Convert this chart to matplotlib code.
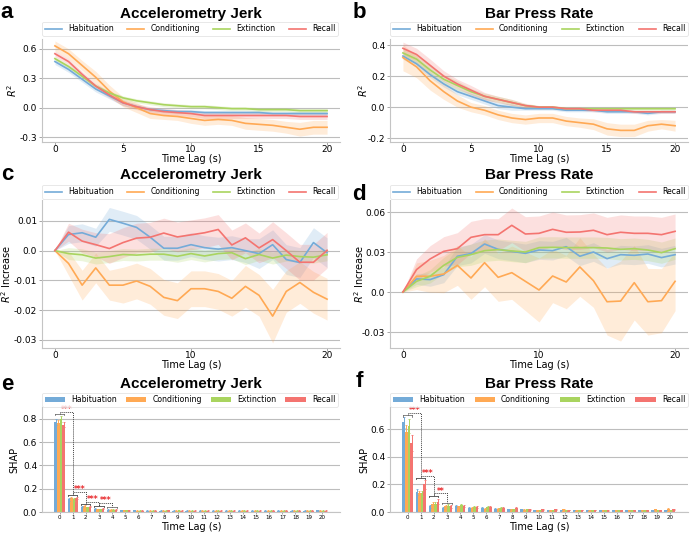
import matplotlib
matplotlib.use('Agg')
import matplotlib.pyplot as plt
import numpy as np

plt.rcParams['axes.unicode_minus'] = False
plt.rcParams['font.family'] = ['DejaVu Sans']

lags = list(range(21))
conditions = ['Habituation', 'Conditioning', 'Extinction', 'Recall']
colors = ['#74abd8', '#ffa954', '#a9d45f', '#f47470']

# ---------- panel a: Accelerometry Jerk, R^2 vs lag ----------
a_hab = [0.47, 0.39, 0.29, 0.19, 0.12, 0.05, 0.01, -0.02, -0.03, -0.04, -0.04, -0.05, -0.05, -0.05, -0.05, -0.05, -0.06, -0.06, -0.06, -0.06, -0.06]
a_con = [0.63, 0.55, 0.43, 0.31, 0.17, 0.06, 0.0, -0.06, -0.08, -0.09, -0.11, -0.13, -0.12, -0.13, -0.16, -0.17, -0.18, -0.20, -0.22, -0.20, -0.20]
a_ext = [0.50, 0.42, 0.32, 0.22, 0.15, 0.10, 0.07, 0.05, 0.03, 0.02, 0.01, 0.01, 0.0, -0.01, -0.01, -0.02, -0.02, -0.02, -0.03, -0.03, -0.03]
a_rec = [0.55, 0.47, 0.34, 0.22, 0.13, 0.05, 0.01, -0.02, -0.04, -0.05, -0.06, -0.08, -0.08, -0.08, -0.08, -0.08, -0.08, -0.08, -0.09, -0.09, -0.09]
a_hab_err = [0.03, 0.03, 0.03, 0.03, 0.03, 0.03, 0.02, 0.02, 0.02, 0.02, 0.02, 0.02, 0.02, 0.02, 0.02, 0.02, 0.02, 0.02, 0.02, 0.02, 0.02]
a_con_err = [0.05, 0.05, 0.05, 0.06, 0.06, 0.05, 0.05, 0.05, 0.04, 0.04, 0.05, 0.05, 0.05, 0.05, 0.06, 0.06, 0.06, 0.06, 0.07, 0.07, 0.07]
a_ext_err = [0.02, 0.02, 0.02, 0.02, 0.02, 0.02, 0.02, 0.02, 0.02, 0.02, 0.02, 0.02, 0.02, 0.02, 0.02, 0.02, 0.02, 0.02, 0.02, 0.02, 0.02]
a_rec_err = [0.03, 0.03, 0.03, 0.03, 0.03, 0.03, 0.03, 0.03, 0.03, 0.03, 0.03, 0.03, 0.03, 0.03, 0.03, 0.03, 0.03, 0.03, 0.03, 0.03, 0.03]

# ---------- panel b: Bar Press Rate, R^2 vs lag ----------
b_hab = [0.33, 0.28, 0.21, 0.15, 0.10, 0.07, 0.04, 0.01, 0.0, -0.01, -0.01, -0.01, -0.02, -0.02, -0.02, -0.03, -0.03, -0.03, -0.04, -0.03, -0.03]
b_con = [0.32, 0.26, 0.17, 0.10, 0.04, 0.0, -0.02, -0.05, -0.07, -0.08, -0.07, -0.07, -0.09, -0.10, -0.11, -0.14, -0.15, -0.15, -0.12, -0.11, -0.12]
b_ext = [0.35, 0.31, 0.24, 0.18, 0.14, 0.10, 0.07, 0.05, 0.03, 0.01, 0.0, 0.0, -0.01, -0.01, -0.01, -0.01, -0.01, -0.01, -0.01, -0.01, -0.01]
b_rec = [0.38, 0.34, 0.27, 0.20, 0.15, 0.11, 0.07, 0.05, 0.03, 0.01, 0.0, 0.0, -0.01, -0.01, -0.02, -0.02, -0.02, -0.03, -0.03, -0.03, -0.03]
b_hab_err = [0.02, 0.02, 0.02, 0.02, 0.02, 0.02, 0.02, 0.02, 0.02, 0.01, 0.01, 0.01, 0.01, 0.01, 0.01, 0.01, 0.01, 0.01, 0.01, 0.01, 0.01]
b_con_err = [0.085, 0.07, 0.06, 0.05, 0.04, 0.03, 0.03, 0.03, 0.03, 0.03, 0.03, 0.03, 0.03, 0.03, 0.035, 0.04, 0.04, 0.04, 0.035, 0.03, 0.035]
b_ext_err = [0.03, 0.03, 0.03, 0.03, 0.03, 0.02, 0.02, 0.02, 0.02, 0.01, 0.01, 0.01, 0.01, 0.01, 0.01, 0.01, 0.01, 0.01, 0.01, 0.01, 0.01]
b_rec_err = [0.04, 0.04, 0.04, 0.035, 0.03, 0.03, 0.025, 0.02, 0.02, 0.015, 0.01, 0.01, 0.01, 0.01, 0.01, 0.01, 0.01, 0.01, 0.01, 0.01, 0.01]

# ---------- panel c: Accelerometry Jerk, R^2 increase ----------
c_hab = [0.0, 0.0054, 0.006, 0.0045, 0.0105, 0.0092, 0.0078, 0.0045, 0.0008, 0.0008, 0.002, 0.001, 0.0005, 0.001, 0.0, -0.001, 0.002, -0.003, -0.004, 0.0027, -0.0007]
c_con = [0.0, -0.0043, -0.0116, -0.0058, -0.0116, -0.0116, -0.0102, -0.012, -0.0157, -0.0168, -0.0128, -0.0128, -0.0137, -0.016, -0.012, -0.015, -0.022, -0.0137, -0.0107, -0.014, -0.0163]
c_ext = [0.0, -0.001, -0.0014, -0.0025, -0.002, -0.0013, -0.0015, -0.0012, -0.0012, -0.0019, -0.001, -0.0018, -0.001, -0.0007, -0.0027, -0.0013, -0.0025, -0.0015, -0.002, -0.0022, -0.0014]
c_rec = [0.0, 0.0062, 0.0032, 0.002, 0.0007, 0.0027, 0.0042, 0.0045, 0.0059, 0.0046, 0.0053, 0.006, 0.0071, 0.0019, 0.0043, 0.0009, 0.0037, 0.0, -0.0039, -0.0039, 0.0001]
c_hab_err = [0.0, 0.003, 0.003, 0.003, 0.004, 0.004, 0.004, 0.004, 0.004, 0.004, 0.004, 0.004, 0.004, 0.004, 0.004, 0.005, 0.005, 0.005, 0.005, 0.005, 0.005]
c_con_err = [0.0, 0.004, 0.005, 0.005, 0.005, 0.006, 0.006, 0.006, 0.006, 0.006, 0.006, 0.006, 0.006, 0.006, 0.007, 0.007, 0.009, 0.007, 0.007, 0.007, 0.007]
c_ext_err = [0.0, 0.002, 0.002, 0.002, 0.002, 0.002, 0.002, 0.002, 0.002, 0.002, 0.002, 0.002, 0.002, 0.002, 0.002, 0.002, 0.002, 0.002, 0.002, 0.002, 0.002]
c_rec_err = [0.0, 0.003, 0.004, 0.004, 0.005, 0.005, 0.005, 0.005, 0.005, 0.005, 0.005, 0.005, 0.005, 0.005, 0.005, 0.005, 0.006, 0.006, 0.006, 0.006, 0.006]

# ---------- panel d: Bar Press Rate, R^2 increase ----------
d_hab = [0.0, 0.0098, 0.0093, 0.013, 0.0268, 0.0288, 0.036, 0.032, 0.0305, 0.029, 0.0315, 0.031, 0.034, 0.0268, 0.03, 0.025, 0.028, 0.0275, 0.0285, 0.0258, 0.028]
d_con = [0.0, 0.0118, 0.0118, 0.0135, 0.02, 0.0105, 0.022, 0.011, 0.0145, 0.008, 0.0015, 0.012, 0.0075, 0.0188, 0.0085, -0.0073, -0.0068, 0.007, -0.0073, -0.0065, 0.008]
d_ext = [0.0, 0.008, 0.0118, 0.02, 0.026, 0.028, 0.031, 0.0318, 0.0308, 0.03, 0.0333, 0.0335, 0.0333, 0.0333, 0.0333, 0.033, 0.032, 0.0325, 0.0315, 0.0295, 0.0325]
d_rec = [0.0, 0.0168, 0.0248, 0.0305, 0.0325, 0.041, 0.043, 0.043, 0.05, 0.0435, 0.044, 0.047, 0.0448, 0.045, 0.0463, 0.043, 0.0448, 0.044, 0.044, 0.043, 0.0455]
d_hab_err = [0.0, 0.004, 0.005, 0.006, 0.007, 0.007, 0.007, 0.007, 0.007, 0.007, 0.007, 0.007, 0.007, 0.007, 0.007, 0.007, 0.007, 0.007, 0.007, 0.007, 0.007]
d_con_err = [0.0, 0.01, 0.012, 0.014, 0.015, 0.016, 0.018, 0.018, 0.02, 0.022, 0.024, 0.02, 0.02, 0.022, 0.02, 0.025, 0.03, 0.028, 0.025, 0.024, 0.022]
d_ext_err = [0.0, 0.004, 0.005, 0.006, 0.007, 0.008, 0.008, 0.008, 0.008, 0.008, 0.008, 0.008, 0.008, 0.008, 0.008, 0.008, 0.008, 0.008, 0.008, 0.008, 0.008]
d_rec_err = [0.0, 0.008, 0.01, 0.011, 0.012, 0.012, 0.012, 0.012, 0.013, 0.013, 0.013, 0.013, 0.013, 0.013, 0.013, 0.013, 0.013, 0.013, 0.013, 0.013, 0.013]

# ---------- panel e: Accelerometry Jerk, SHAP ----------
e_hab = [0.77, 0.11, 0.045, 0.03, 0.02, 0.013, 0.013, 0.012, 0.012, 0.012, 0.012, 0.012, 0.012, 0.012, 0.012, 0.012, 0.012, 0.012, 0.012, 0.012, 0.013]
e_con = [0.76, 0.12, 0.05, 0.025, 0.02, 0.013, 0.012, 0.012, 0.012, 0.012, 0.012, 0.012, 0.012, 0.012, 0.012, 0.012, 0.012, 0.012, 0.012, 0.012, 0.012]
e_ext = [0.80, 0.11, 0.04, 0.025, 0.02, 0.013, 0.012, 0.012, 0.012, 0.013, 0.012, 0.012, 0.012, 0.012, 0.012, 0.012, 0.012, 0.012, 0.012, 0.012, 0.012]
e_rec = [0.75, 0.12, 0.045, 0.03, 0.02, 0.013, 0.012, 0.012, 0.013, 0.012, 0.012, 0.012, 0.012, 0.012, 0.012, 0.012, 0.012, 0.012, 0.012, 0.012, 0.012]
e_hab_err = [0.025, 0.012, 0.006, 0.004, 0.003, 0.002, 0.002, 0.002, 0.002, 0.002, 0.002, 0.002, 0.002, 0.002, 0.002, 0.002, 0.002, 0.002, 0.002, 0.002, 0.002]
e_con_err = [0.025, 0.012, 0.006, 0.004, 0.003, 0.002, 0.002, 0.002, 0.002, 0.002, 0.002, 0.002, 0.002, 0.002, 0.002, 0.002, 0.002, 0.002, 0.002, 0.002, 0.002]
e_ext_err = [0.025, 0.012, 0.006, 0.004, 0.003, 0.002, 0.002, 0.002, 0.002, 0.002, 0.002, 0.002, 0.002, 0.002, 0.002, 0.002, 0.002, 0.002, 0.002, 0.002, 0.002]
e_rec_err = [0.025, 0.012, 0.006, 0.004, 0.003, 0.002, 0.002, 0.002, 0.002, 0.002, 0.002, 0.002, 0.002, 0.002, 0.002, 0.002, 0.002, 0.002, 0.002, 0.002, 0.002]

# ---------- panel f: Bar Press Rate, SHAP ----------
f_hab = [0.65, 0.145, 0.04, 0.03, 0.045, 0.03, 0.03, 0.025, 0.02, 0.02, 0.015, 0.015, 0.015, 0.015, 0.015, 0.015, 0.015, 0.012, 0.012, 0.012, 0.015]
f_con = [0.58, 0.135, 0.06, 0.045, 0.04, 0.03, 0.025, 0.025, 0.02, 0.015, 0.015, 0.015, 0.02, 0.015, 0.012, 0.015, 0.012, 0.012, 0.015, 0.02, 0.025]
f_ext = [0.62, 0.135, 0.06, 0.045, 0.05, 0.035, 0.035, 0.03, 0.02, 0.02, 0.015, 0.015, 0.015, 0.015, 0.015, 0.012, 0.015, 0.012, 0.012, 0.015, 0.012]
f_rec = [0.50, 0.20, 0.075, 0.04, 0.045, 0.035, 0.035, 0.03, 0.03, 0.02, 0.02, 0.02, 0.015, 0.015, 0.015, 0.012, 0.012, 0.015, 0.015, 0.015, 0.02]
f_hab_err = [0.04, 0.02, 0.01, 0.006, 0.006, 0.005, 0.005, 0.004, 0.004, 0.004, 0.003, 0.003, 0.003, 0.003, 0.003, 0.003, 0.003, 0.003, 0.003, 0.003, 0.003]
f_con_err = [0.05, 0.02, 0.012, 0.008, 0.006, 0.005, 0.005, 0.004, 0.004, 0.004, 0.003, 0.003, 0.004, 0.003, 0.003, 0.003, 0.003, 0.003, 0.003, 0.005, 0.006]
f_ext_err = [0.05, 0.02, 0.015, 0.01, 0.008, 0.005, 0.005, 0.004, 0.004, 0.004, 0.003, 0.003, 0.003, 0.003, 0.003, 0.003, 0.003, 0.003, 0.003, 0.003, 0.003]
f_rec_err = [0.06, 0.03, 0.02, 0.008, 0.006, 0.005, 0.005, 0.004, 0.004, 0.004, 0.003, 0.003, 0.003, 0.003, 0.003, 0.003, 0.003, 0.003, 0.003, 0.003, 0.004]

# significance brackets: (from lag, to lag, bracket height, cap height from, cap height to, stars)
e_sig = [(0, 1, 0.855, 0.838, 0.146, '***'), (1, 2, 0.17, 0.146, 0.069, '***'),
         (2, 3, 0.089, 0.069, 0.054, '***'), (3, 4, 0.08, 0.054, 0.046, '***')]
f_sig = [(0, 1, 0.715, 0.70, 0.245, '***'), (1, 2, 0.26, 0.245, 0.115, '***'),
         (2, 3, 0.135, 0.115, 0.065, '**')]

W, H = 690, 534
fig = plt.figure(figsize=(W / 100, H / 100), dpi=100)


def px_axes(l, r, t, b):
    return fig.add_axes([l / W, 1 - b / H, (r - l) / W, (b - t) / H])


TITLE_FONT = dict(family='Liberation Sans', weight='bold', fontsize=11)
LETTER_FONT = dict(family='Liberation Sans', weight='bold', fontsize=16)
GRID_C = '#bdbdbd'
SPINE_C = '#c4c4c4'
TICK_FS = 6.5


def style(ax):
    for s in ['top', 'right']:
        ax.spines[s].set_visible(False)
    for s in ['left', 'bottom']:
        ax.spines[s].set_color(SPINE_C)
        ax.spines[s].set_linewidth(0.8)
    ax.yaxis.grid(True, color=GRID_C, linewidth=0.8)
    ax.set_axisbelow(True)
    ax.tick_params(axis='both', labelsize=TICK_FS, length=2, width=0.6, color='#999999', pad=1.5)
    ax.tick_params(axis='x', pad=0.5)


def legend(ax, box, patch=False):
    l, r, t, b = box
    leg = ax.legend(loc='lower left', bbox_to_anchor=(l / W, 1 - b / H, (r - l) / W, (b - t) / H),
                    bbox_transform=fig.transFigure, mode='expand', ncol=4, fontsize=5.6,
                    frameon=True, fancybox=True, borderaxespad=0, handlelength=2.2 if not patch else 2.6,
                    handleheight=0.6, borderpad=0.35, edgecolor='#dddddd')
    leg.get_frame().set_linewidth(0.6)


def line_panel(ax, series, errs, ylim, yticks, ylabels, xticks, ylabel):
    x = np.array(lags)
    for s, e, c, name in zip(series, errs, colors, conditions):
        s = np.array(s); e = np.array(e)
        ax.fill_between(x, s - e, s + e, color=c, alpha=0.22, linewidth=0)
        ax.plot(x, s, color=c, lw=1.2, label=name)
    ax.set_xlim(-0.95, 20.95)
    ax.set_ylim(*ylim)
    ax.set_yticks(yticks)
    ax.set_yticklabels(ylabels)
    ax.set_xticks(xticks)
    ax.set_xticklabels([str(v) for v in xticks])
    ax.set_ylabel(ylabel, fontsize=7)
    ax.set_xlabel('Time Lag (s)', fontsize=7)
    style(ax)


def bar_panel(ax, series, errs, ylim, yticks, ylabels, sig):
    x = np.array(lags)
    w = 0.2
    for k, (s, e, c, name) in enumerate(zip(series, errs, colors, conditions)):
        ax.bar(x + (k - 1.5) * w, s, w, yerr=e, color=c, label=name, linewidth=0,
               error_kw=dict(ecolor=c, elinewidth=0.7, capsize=0.8, capthick=0.6))
    for (i, j, h, ci, cj, st) in sig:
        ax.plot([i, i, j, j], [ci, h, h, cj], color='#444444', lw=0.7, ls=(0, (1, 1)))
        for xc, yc in [(i, ci), (j, cj)]:
            ax.plot([xc - 0.35, xc + 0.35], [yc, yc], color='#555555', lw=0.5)
            ax.plot([xc - 0.35, xc - 0.35], [yc, yc - ylim[1] * 0.012], color='#555555', lw=0.5)
            ax.plot([xc + 0.35, xc + 0.35], [yc, yc - ylim[1] * 0.012], color='#555555', lw=0.5)
        ax.text((i + j) / 2, h + ylim[1] * 0.022, st, color='#e8282b', fontsize=5.5, fontweight='bold',
                ha='center', va='center', zorder=5)
    ax.set_xlim(-1.35, 21.4)
    ax.set_ylim(*ylim)
    ax.set_yticks(yticks)
    ax.set_yticklabels(ylabels)
    ax.set_xticks(x)
    ax.set_xticklabels([str(v) for v in lags])
    ax.set_ylabel('SHAP', fontsize=7)
    ax.set_xlabel('Time Lag (s)', fontsize=7)
    style(ax)
    ax.tick_params(axis='x', labelsize=4, length=1.5, pad=1.0)


# a
ax_a = px_axes(42, 340, 39, 142)
line_panel(ax_a, [a_hab, a_con, a_ext, a_rec], [a_hab_err, a_con_err, a_ext_err, a_rec_err],
           (-0.35, 0.70), [-0.3, 0.0, 0.3, 0.6], ['-0.3', '0.0', '0.3', '0.6'], [0, 5, 10, 15, 20], '$R^2$')
# b
ax_b = px_axes(390, 688, 39, 142)
line_panel(ax_b, [b_hab, b_con, b_ext, b_rec], [b_hab_err, b_con_err, b_ext_err, b_rec_err],
           (-0.225, 0.44), [-0.2, 0.0, 0.2, 0.4], ['-0.2', '0.0', '0.2', '0.4'], [0, 5, 10, 15, 20], '$R^2$')
# c
ax_c = px_axes(42, 340, 200, 348)
line_panel(ax_c, [c_hab, c_con, c_ext, c_rec], [c_hab_err, c_con_err, c_ext_err, c_rec_err],
           (-0.0327, 0.017), [-0.03, -0.02, -0.01, 0.0, 0.01], ['-0.03', '-0.02', '-0.01', '0.0', '0.01'],
           [0, 10, 20], '$R^2$ Increase')
# d
ax_d = px_axes(390, 688, 200, 348)
line_panel(ax_d, [d_hab, d_con, d_ext, d_rec], [d_hab_err, d_con_err, d_ext_err, d_rec_err],
           (-0.042, 0.069), [-0.03, 0.0, 0.03, 0.06], ['-0.03', '0.0', '0.03', '0.06'],
           [0, 10, 20], '$R^2$ Increase')
# e
ax_e = px_axes(42, 340, 407, 512)
bar_panel(ax_e, [e_hab, e_con, e_ext, e_rec], [e_hab_err, e_con_err, e_ext_err, e_rec_err],
          (0, 0.9), [0, 0.2, 0.4, 0.6, 0.8], ['0.0', '0.2', '0.4', '0.6', '0.8'], e_sig)
# f
ax_f = px_axes(390, 688, 407, 512)
bar_panel(ax_f, [f_hab, f_con, f_ext, f_rec], [f_hab_err, f_con_err, f_ext_err, f_rec_err],
          (0, 0.76), [0, 0.2, 0.4, 0.6], ['0.0', '0.2', '0.4', '0.6'], f_sig)

# y-label anchor = right edge of rotated label (pixels)
ax_a.yaxis.set_label_coords((19 - 42) / 298, 0.5)
ax_b.yaxis.set_label_coords((370 - 390) / 298, 0.5)
ax_c.yaxis.set_label_coords((13 - 42) / 298, 0.5)
ax_d.yaxis.set_label_coords((366 - 390) / 298, 0.5)
ax_e.yaxis.set_label_coords((19 - 42) / 298, 0.5)
ax_f.yaxis.set_label_coords((369 - 390) / 298, 0.5)
# x-label anchor = top edge of label
ax_a.xaxis.set_label_coords(0.5, (142 - 153.5) / 103)
ax_b.xaxis.set_label_coords(0.5, (142 - 153.5) / 103)
ax_c.xaxis.set_label_coords(0.5, (348 - 360) / 148)
ax_d.xaxis.set_label_coords(0.5, (348 - 360) / 148)
ax_e.xaxis.set_label_coords(0.5, (512 - 522) / 105)
ax_f.xaxis.set_label_coords(0.5, (512 - 522) / 105)

legend(ax_a, (42, 338, 23, 36))
legend(ax_b, (390, 688, 23, 36))
legend(ax_c, (42, 338, 187, 199))
legend(ax_d, (390, 688, 187, 199))
legend(ax_e, (42, 338, 394, 407), patch=True)
legend(ax_f, (390, 688, 394, 407), patch=True)

# titles
for (xc, yc, t) in [(191, 14, 'Accelerometry Jerk'), (539, 14, 'Bar Press Rate'),
                    (191, 175, 'Accelerometry Jerk'), (539, 175, 'Bar Press Rate'),
                    (191, 384, 'Accelerometry Jerk'), (539, 384, 'Bar Press Rate')]:
    fig.text(xc / W, 1 - yc / H, t, ha='center', va='center', **TITLE_FONT)

# panel letters
for (xc, yb, t) in [(7, 18, 'a'), (359, 18, 'b'), (7, 180, 'c'), (359, 200, 'd'),
                    (7, 390, 'e'), (359, 387, 'f')]:
    fig.text(xc / W, 1 - yb / H, t, ha='center', va='baseline', **LETTER_FONT)

fig.savefig('out.png', dpi=100)
